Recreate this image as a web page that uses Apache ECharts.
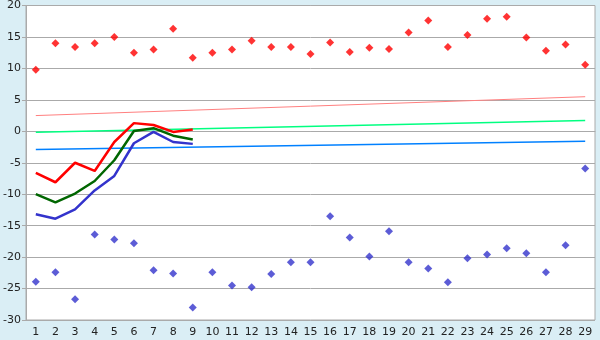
<!DOCTYPE html>
<html><head><meta charset="utf-8">
<script src="https://cdn.jsdelivr.net/npm/echarts@6/dist/echarts.min.js"></script>
<style>html,body{margin:0;padding:0;background:#daeef5;}#c{width:600px;height:340px;}</style>
</head><body><div id="c"></div>
<script>
var categories = ['1','2','3','4','5','6','7','8','9','10','11','12','13','14','15','16','17','18','19','20','21','22','23','24','25','26','27','28','29'];
var maxPoints = [9.8,14.0,13.4,14.0,15.0,12.5,13.0,16.3,11.7,12.5,13.0,14.4,13.4,13.4,12.3,14.1,12.6,13.3,13.1,15.7,17.6,13.4,15.3,17.9,18.2,14.9,12.8,13.8,10.6];
var minPoints = [-23.9,-22.4,-26.7,-16.4,-17.2,-17.8,-22.1,-22.6,-28.0,-22.4,-24.5,-24.8,-22.7,-20.8,-20.8,-13.5,-16.9,-19.9,-15.9,-20.8,-21.8,-24.0,-20.2,-19.6,-18.6,-19.4,-22.4,-18.1,-5.9];
var redLine = [-6.6,-8.1,-5.0,-6.3,-1.7,1.3,1.0,-0.1,0.3];
var greenLine = [-10.0,-11.3,-9.9,-7.9,-4.6,0.05,0.5,-0.7,-1.3];
var blueLine = [-13.2,-13.9,-12.4,-9.4,-7.1,-1.9,-0.1,-1.7,-2.0];
var pinkTrend = [[0,2.5],[28,5.5]];
var greenTrend = [[0,-0.15],[28,1.7]];
var blueTrend = [[0,-2.9],[28,-1.6]];
var yTicks = {min:-30, max:20, interval:5};

var chart = echarts.init(document.getElementById('c'));
function ln(data, color, width, z){
  return {type:'line', data:data, showSymbol:false, symbol:'none', lineStyle:{color:color,width:width}, itemStyle:{color:color}, z:z, animation:false};
}
chart.setOption({
  backgroundColor:'#daeef5',
  animation:false,
  grid:{left:26,right:5,top:5,bottom:20,show:true,backgroundColor:'#ffffff',borderColor:'#aaaaaa',borderWidth:1},
  xAxis:{type:'category',data:categories,boundaryGap:true,
    axisLine:{lineStyle:{color:'#aaaaaa'}},
    axisTick:{alignWithLabel:true,length:5,lineStyle:{color:'#222'}},
    axisLabel:{color:'#222',fontFamily:'DejaVu Sans',fontSize:11,margin:7,interval:0},
    splitLine:{show:false}},
  yAxis:{type:'value',min:yTicks.min,max:yTicks.max,interval:yTicks.interval,
    axisLine:{show:true,lineStyle:{color:'#aaaaaa'}},
    axisTick:{show:true,length:4,lineStyle:{color:'#aaaaaa'}},
    axisLabel:{color:'#222',fontFamily:'DejaVu Sans',fontSize:11,margin:5},
    splitLine:{lineStyle:{color:'#aaaaaa',width:1}}},
  series:[
    ln(pinkTrend,'#ff8080',1,2),
    ln(greenTrend,'#00ff80',1.5,2),
    ln(blueTrend,'#0080ff',1.5,2),
    ln(blueLine,'#3333cc',2.5,3),
    ln(greenLine,'#006600',2.5,3),
    ln(redLine,'#ff0000',2.5,4),
    {type:'scatter',data:maxPoints,symbol:'diamond',symbolSize:8,itemStyle:{color:'#ff0000'},z:5},
    {type:'scatter',data:minPoints,symbol:'diamond',symbolSize:8,itemStyle:{color:'#3333cc'},z:5}
  ]
});
</script></body></html>
